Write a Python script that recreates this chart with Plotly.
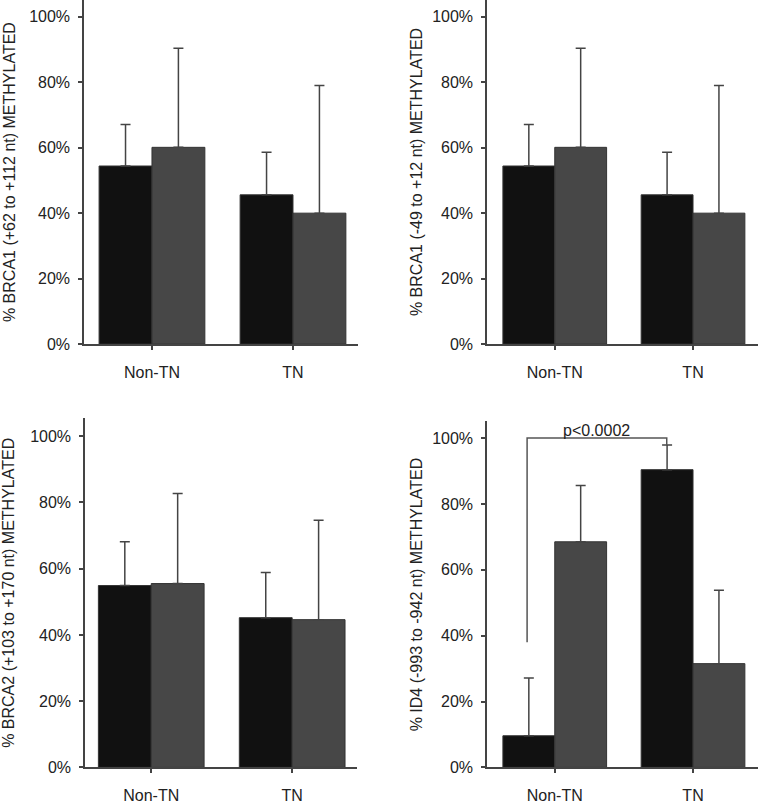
import plotly.graph_objects as go
from plotly.subplots import make_subplots

# groups on the x axis and the two bars in each group
groups = ["Non-TN", "TN"]

# fraction methylated (bar height) and upper error (top of whisker) per panel
brca1_a_black = [0.544, 0.456]
brca1_a_black_err = [0.671, 0.586]
brca1_a_grey = [0.601, 0.400]
brca1_a_grey_err = [0.904, 0.790]

brca1_b_black = [0.544, 0.456]
brca1_b_black_err = [0.671, 0.586]
brca1_b_grey = [0.601, 0.400]
brca1_b_grey_err = [0.904, 0.790]

brca2_black = [0.549, 0.452]
brca2_black_err = [0.681, 0.588]
brca2_grey = [0.555, 0.446]
brca2_grey_err = [0.827, 0.746]

id4_black = [0.096, 0.904]
id4_black_err = [0.271, 0.979]
id4_grey = [0.685, 0.315]
id4_grey_err = [0.856, 0.538]

y_titles = [
    "% BRCA1 (+62 to +112 nt) METHYLATED",
    "% BRCA1 (-49 to +12 nt) METHYLATED",
    "% BRCA2 (+103 to +170 nt) METHYLATED",
    "% ID4 (-993 to -942 nt) METHYLATED",
]
y_ticks = [0, 0.2, 0.4, 0.6, 0.8, 1.0]

# significance bracket for ID4 panel
p_label = "p<0.0002"
bracket_start = 0.38
bracket_top = 1.0

panels = [
    (brca1_a_black, brca1_a_black_err, brca1_a_grey, brca1_a_grey_err),
    (brca1_b_black, brca1_b_black_err, brca1_b_grey, brca1_b_grey_err),
    (brca2_black, brca2_black_err, brca2_grey, brca2_grey_err),
    (id4_black, id4_black_err, id4_grey, id4_grey_err),
]

W, H = 758, 809
BLACK = "#111111"
GREY = "#474747"
LINE = "#444444"
FONT = "Liberation Sans, Arial, Helvetica, sans-serif"

fig = make_subplots(rows=2, cols=2)

for i, (bk, bk_err, gr, gr_err) in enumerate(panels):
    r, c = i // 2 + 1, i % 2 + 1
    for vals, tops, col in [(bk, bk_err, BLACK), (gr, gr_err, GREY)]:
        fig.add_trace(go.Bar(
            x=[0, 1], y=vals,
            marker=dict(color=col, line=dict(color="#333333", width=1)),
            error_y=dict(type="data", symmetric=False,
                         array=[t - v for t, v in zip(tops, vals)],
                         arrayminus=[0, 0],
                         color=LINE, thickness=1.5, width=5),
            showlegend=False,
        ), row=r, col=c)

# pixel layout of each panel: x domain (px), y axis bottom/top (px from top), top of y range
boxes = [
    (84, 358, 348, 0, 1.051, -0.482, 1.461),
    (487, 758, 348, 0, 1.051, -0.49, 1.47),
    (85, 357, 776, 423, 1.054, -0.47, 1.46),
    (487, 758, 776, 426, 1.051, -0.49, 1.47),
]
for i, (x0, x1, yb, yt, ytop, xr0, xr1) in enumerate(boxes):
    n = "" if i == 0 else str(i + 1)
    fig.layout["xaxis" + n].update(
        domain=[x0 / W, x1 / W], range=[xr0, xr1],
        tickvals=[0, 1], ticktext=groups,
        showline=True, linecolor=LINE, linewidth=1.5,
        ticks="outside", ticklen=4, tickcolor=LINE, tickwidth=1.5,
        showgrid=False, zeroline=False, ticklabelstandoff=9,
        tickfont=dict(size=16, color="#222222", family=FONT),
    )
    fig.layout["yaxis" + n].update(
        domain=[1 - yb / H, 1 - yt / H], range=[0, ytop],
        tickvals=y_ticks, tickformat=".0%",
        showline=True, linecolor=LINE, linewidth=1.5,
        ticks="outside", ticklen=4, tickcolor=LINE, tickwidth=1.5,
        showgrid=False, zeroline=False, ticklabelstandoff=5,
        tickfont=dict(size=16, color="#222222", family=FONT),
    )
    tx = 9 if i % 2 == 0 else 416
    fig.add_annotation(
        text=y_titles[i], textangle=-90, showarrow=False,
        xref="paper", yref="paper", x=tx / W, y=1 - (yb + yt) / 2 / H,
        xanchor="center", yanchor="middle",
        font=dict(size=16, color="#222222", family=FONT),
    )

# bracket from Non-TN black bar up and over to the TN black whisker
fig.add_shape(
    type="path", xref="x4", yref="y4",
    path=f"M -0.2,{bracket_start} L -0.2,{bracket_top} L 0.81,{bracket_top} L 0.81,{id4_black_err[1]}",
    line=dict(color="#555555", width=1.5),
)
fig.add_annotation(
    text=p_label, xref="x4", yref="y4", x=0.3, y=bracket_top,
    yanchor="bottom", showarrow=False, yshift=-3,
    font=dict(size=16, color="#222222", family=FONT),
)

fig.update_layout(
    width=W, height=H, autosize=False,
    margin=dict(l=0, r=0, t=0, b=0),
    plot_bgcolor="white", paper_bgcolor="white",
    barmode="group", bargap=0.25, bargroupgap=0,
)

# page body has a default 8px margin; drop it so the figure sits at the corner
page_fix = (
    "document.documentElement.style.margin='0';"
    "document.body.style.margin='0';"
    "document.body.style.padding='0';"
    "document.body.style.overflow='hidden';"
)
fig.write_html("out.html", post_script=page_fix,
               config={"displayModeBar": False})
